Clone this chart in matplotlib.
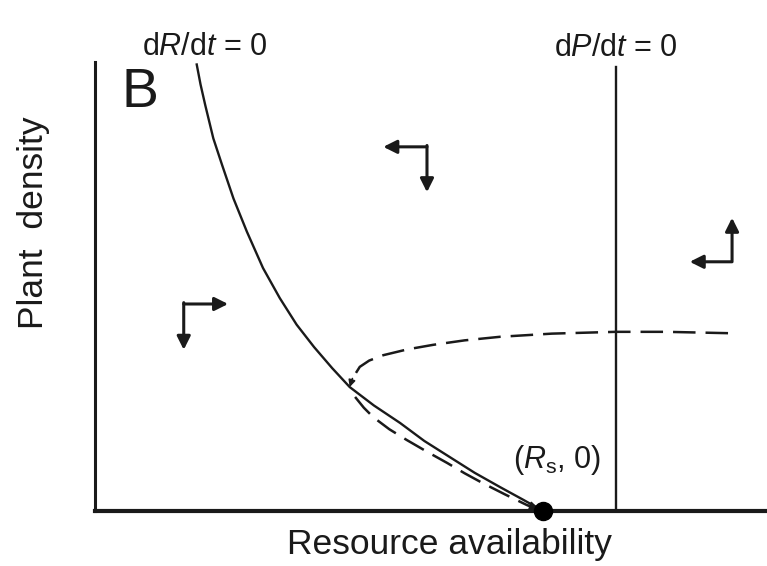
import matplotlib.pyplot as plt

plt.rcParams.update({
    'font.family': ['Liberation Sans', 'DejaVu Sans'],
    'mathtext.fontset': 'custom',
    'mathtext.rm': 'Liberation Sans',
    'mathtext.it': 'Liberation Sans:italic',
})

# resource nullcline dR/dt = 0 (resource availability, plant density)
nullcline_R = [15.1, 15.7, 16.4, 17.6, 18.9, 20.6, 22.6, 25.0, 27.5, 30.0, 32.6, 35.3,
               37.9, 41.5, 45.4, 49.0, 52.8, 56.5, 60.3, 63.6, 66.7]
nullcline_P = [99.7, 95.0, 90.4, 83.0, 77.1, 69.6, 62.2, 54.1, 47.4, 41.5, 36.5, 31.8,
               27.6, 23.5, 19.6, 15.6, 12.0, 8.5, 5.3, 2.6, 0.0]

# plant nullcline dP/dt = 0
plant_nullcline_R = 77.5
plant_nullcline_top = 98.9

# trajectory (dashed), upper branch then lower branch
traj1_R = [94.2, 85.0, 77.5, 68.0, 60.3, 55.0, 50.3, 46.5, 42.9, 40.8, 39.4, 38.3]
traj1_P = [39.6, 39.9, 39.9, 39.5, 38.8, 38.0, 37.0, 36.0, 34.7, 33.5, 32.1, 29.5]
traj2_R = [38.7, 40.0, 41.4, 43.8, 46.4, 49.4, 52.4, 55.0, 57.7, 61.0, 64.3, 65.5]
traj2_P = [25.4, 23.0, 20.9, 18.2, 15.8, 13.2, 10.7, 8.4, 6.2, 3.7, 1.3, 0.7]

# equilibrium (R_s, 0)
Rs = 66.7

# direction arrows: corner point, horizontal tip, vertical tip
corner_R = [49.4, 13.2, 94.8]
corner_P = [81.1, 46.1, 55.5]
horiz_tip_R = [42.9, 19.8, 88.5]
vert_tip_P = [71.0, 35.9, 65.3]

ink = '#1a1a1a'

fig = plt.figure(figsize=(7.67, 5.66), dpi=100)
ax = fig.add_axes([0.1239, 0.0972, 0.8761, 0.7933])
ax.set_xlim(0, 100)
ax.set_ylim(0, 100)

ax.plot(nullcline_R, nullcline_P, '-', color=ink, lw=1.7, solid_capstyle='butt')
ax.plot([plant_nullcline_R, plant_nullcline_R], [0, plant_nullcline_top], '-', color=ink, lw=1.7)

ax.plot(traj1_R, traj1_P, color=ink, lw=1.8, linestyle=(0, (9, 4)))
ax.annotate('', xy=(37.9, 27.6), xytext=(traj1_R[-1], traj1_P[-1]),
            arrowprops=dict(arrowstyle='-|>', color=ink, lw=1.2,
                            mutation_scale=10, shrinkA=0, shrinkB=0))
ax.plot(traj2_R, traj2_P, color=ink, lw=1.8, linestyle=(0, (9, 4)))
ax.annotate('', xy=(traj2_R[-1] + 0.6, traj2_P[-1] - 0.3), xytext=(traj2_R[-2], traj2_P[-2]),
            arrowprops=dict(arrowstyle='-|>', color=ink, lw=1.2,
                            mutation_scale=14, shrinkA=0, shrinkB=0))

ax.plot([Rs], [0], 'o', color='black', markersize=13, clip_on=False, zorder=5)

for cr, cp, hr, vp in zip(corner_R, corner_P, horiz_tip_R, vert_tip_P):
    ax.annotate('', xy=(hr, cp), xytext=(cr, cp),
                arrowprops=dict(arrowstyle='-|>', color=ink, lw=2.2,
                                mutation_scale=20, shrinkA=0, shrinkB=0))
    ax.annotate('', xy=(cr, vp), xytext=(cr, cp + 0.3),
                arrowprops=dict(arrowstyle='-|>', color=ink, lw=2.2,
                                mutation_scale=20, shrinkA=0, shrinkB=0))

ax.text(16.4, 103.3, r'd$\mathit{R}$/d$\mathit{t}$ = 0', fontsize=22, ha='center', va='center', color=ink)
ax.text(77.5, 103.1, r'd$\mathit{P}$/d$\mathit{t}$ = 0', fontsize=22, ha='center', va='center', color=ink)
ax.text(6.7, 93.0, 'B', fontsize=40, ha='center', va='center', color=ink)
ax.text(68.8, 11.4, r'($\mathit{R}_\mathrm{s}$, 0)', fontsize=22, ha='center', va='center', color=ink)

ax.set_xlabel('Resource availability', fontsize=25.5, color=ink, va='center')
ax.set_ylabel('Plant  density', fontsize=25.5, color=ink, va='center')
ax.xaxis.set_label_coords(0.528, -0.0757)
ax.yaxis.set_label_coords(-0.092, 0.641)

ax.set_xticks([])
ax.set_yticks([])
ax.spines['top'].set_visible(False)
ax.spines['right'].set_visible(False)
ax.spines['left'].set_linewidth(2.2)
ax.spines['bottom'].set_linewidth(3.0)
ax.spines['left'].set_color(ink)
ax.spines['bottom'].set_color(ink)

fig.savefig('out.png', dpi=100)
